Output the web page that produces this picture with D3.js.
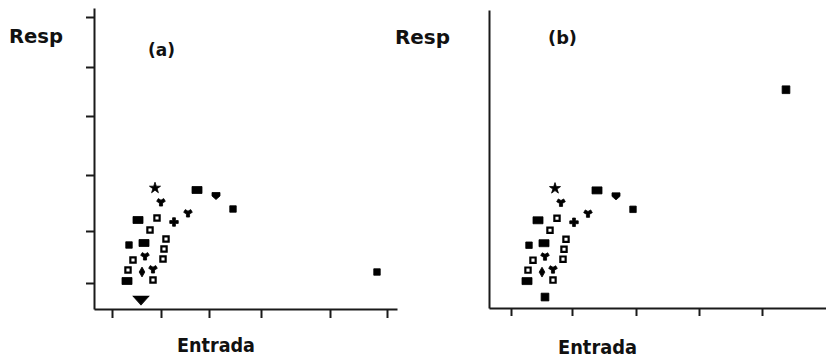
<!DOCTYPE html>
<html>
<head>
<meta charset="utf-8">
<script src="https://cdn.jsdelivr.net/npm/d3@7"></script>
<style>
    body { margin: 0; background: #fff; }
    svg { display: block; }
    .lbl { font-family: "DejaVu Sans", Verdana, sans-serif; font-weight: bold; fill: #111; }
    .axis path, .axis line { stroke: #1a1a1a; stroke-width: 2; }
</style>
</head>
<body>
<svg width="826" height="359"></svg>
<script>
// Entrada / Resp values shared by both panels (cluster)
let entrada = [6.1, 10.3, 12.2, 13.9, 6.7, 4.4, 6.3, 8.0, 9.4, 5.6, 7.2, 3.5, 5.0, 7.0, 5.1, 3.9, 6.9, 3.4, 4.8, 5.9, 3.3, 5.9];
let resp = [12.1, 11.9, 11.3, 10.0, 10.7, 8.9, 9.1, 8.7, 9.6, 7.9, 7.0, 6.4, 6.6, 6.0, 5.3, 4.9, 5.0, 3.9, 3.7, 4.0, 2.8, 2.9];
let shapes = ["star", "rect", "shield", "sq", "wye", "rect", "open", "cross", "wye", "open", "open", "sq", "rect", "open", "wye", "open", "open", "open", "diamond", "wye", "rect", "open"];

// the two points that differ between panels
let extraA = { entrada: [4.7, 28.3], resp: [1.0, 3.7], shapes: ["tri", "sq"] };
let extraB = { entrada: [5.1, 29.2], resp: [1.2, 22.0], shapes: ["big", "big"] };

// tick positions (no labels in the original)
let xTicksA = [1.8, 6.7, 11.5, 16.7, 23.6, 29.3];
let yTicksA = [29.2, 24.2, 19.3, 13.4, 7.8, 2.6];
let xTicksB = [1.7, 7.8, 14.2, 20.5, 26.8];

let svg = d3.select('svg');

function symbolFor(s) {
    switch (s) {
        case 'star': return d3.symbol().type(d3.symbolStar).size(38)();
        case 'wye': return d3.symbol().type(d3.symbolWye).size(34)();
        case 'cross': return d3.symbol().type(d3.symbolCross).size(40)();
        case 'diamond': return d3.symbol().type(d3.symbolDiamond).size(28)();
        case 'tri': return d3.symbol().type(d3.symbolTriangle).size(55)();
        case 'shield': return "M-4,-3.5H4V0L0,3.5L-4,0Z";
        case 'rect': return "M-5,-3.5H5V3.5H-5Z";
        case 'open': return d3.symbol().type(d3.symbolSquare).size(28)();
        case 'big': return d3.symbol().type(d3.symbolSquare).size(60)();
        default: return d3.symbol().type(d3.symbolSquare).size(42)();
    }
}

function panel(opt) {
    let xScale = d3.scaleLinear().domain(opt.xDomain).range(opt.xRange);
    let yScale = d3.scaleLinear().domain(opt.yDomain).range(opt.yRange);

    let g = svg.append('g');

    g.append('g')
        .attr('class', 'axis')
        .attr('transform', 'translate(0,' + opt.yRange[0] + ')')
        .call(d3.axisBottom(xScale).tickValues(opt.xTicks).tickFormat('').tickSizeInner(opt.xTickLen).tickSizeOuter(0));

    g.append('g')
        .attr('class', 'axis')
        .attr('transform', 'translate(' + opt.xRange[0] + ',0)')
        .call(d3.axisLeft(yScale).tickValues(opt.yTicks).tickFormat('').tickSizeInner(8).tickSizeOuter(0));

    let pts = entrada.map((d, i) => ({ x: d, y: resp[i], s: shapes[i] }));
    opt.extra.entrada.forEach((d, i) => pts.push({ x: d, y: opt.extra.resp[i], s: opt.extra.shapes[i] }));

    g.selectAll('.point').data(pts)
        .enter().append('path')
        .attr('class', 'point')
        .attr('d', d => symbolFor(d.s))
        .attr('transform', d => {
            let t = 'translate(' + xScale(d.x) + ',' + yScale(d.y) + ')';
            if (d.s == 'tri') t += ' rotate(180) scale(1.4,0.9)';
            return t;
        })
        .style('fill', d => d.s == 'open' ? '#fff' : '#000')
        .style('stroke', '#000')
        .style('stroke-width', d => d.s == 'open' ? 2.2 : 0.8);

    return g;
}

panel({
    xDomain: [0, 30.3], xRange: [94, 397],
    yDomain: [0, 30.1], yRange: [309, 8],
    xTicks: xTicksA, yTicks: yTicksA, xTickLen: 9,
    extra: extraA
});

panel({
    xDomain: [-0.5, 33.2], xRange: [489, 826],
    yDomain: [0.1, 30], yRange: [308, 10],
    xTicks: xTicksB, yTicks: [], xTickLen: 8,
    extra: extraB
});

// labels
function label(txt, x, y, size, len) {
    let t = svg.append('text')
        .attr('class', 'lbl')
        .attr('x', x)
        .attr('y', y)
        .style('font-size', size + 'px')
        .text(txt);
    if (len) t.attr('textLength', len).attr('lengthAdjust', 'spacingAndGlyphs');
}

label('Resp', 9, 43, 19, 54);
label('(a)', 148, 56, 18, 27);
label('Entrada', 177, 352, 20, 78);
label('Resp', 395, 44, 19, 55);
label('(b)', 548, 44, 18, 29);
label('Entrada', 558, 354, 20, 79);
</script>
</body>
</html>
